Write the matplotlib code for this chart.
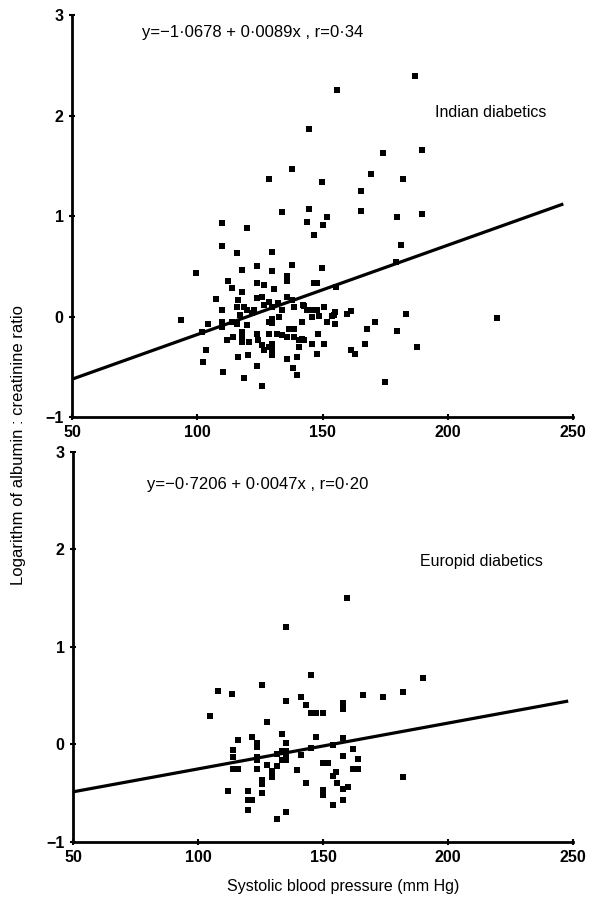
import numpy as np
import matplotlib
matplotlib.use('Agg')
import matplotlib.pyplot as plt

plt.rcParams['font.family'] = ['Liberation Sans', 'DejaVu Sans']

## Indian diabetics (systolic bp, log albumin:creatinine)
indian_sbp = [155.9, 144.5, 137.8, 128.5, 149.9, 133.8, 144.4, 151.7,
              186.9, 173.9, 189.8, 169.1, 181.9, 165.1, 165.1, 179.8, 189.8,
              93.6, 99.5, 109.8, 119.7, 109.8, 115.7, 129.8, 143.7, 150.3, 146.4,
              117.7, 123.7, 129.8, 137.8, 149.9, 135.7, 135.7, 112.2, 113.7, 123.7, 126.4, 130.5,
              146.5, 147.9, 155.2, 117.7, 107.6, 116.4, 123.7, 125.7, 135.8, 137.8, 128.4, 132.3,
              115.7, 118.5, 126.4, 129.8, 138.4, 142.3, 150.4,
              109.8, 119.7, 122.7, 133.8, 145.7, 147.7, 155.0, 117.2, 121.8, 132.5, 129.8, 145.7, 148.5, 154.4,
              104.2, 109.8, 109.8, 113.7, 115.7, 119.7, 128.4, 129.8, 141.8, 151.9, 155.0,
              101.8, 114.4, 117.7, 117.7, 117.7, 111.8, 120.6, 123.7, 124.3, 125.7, 128.4, 129.8, 128.4,
              131.7, 133.8, 135.8, 136.5, 138.4, 138.4, 140.4, 141.8, 142.4, 140.4, 129.7, 126.4, 129.8,
              129.8, 148.1, 145.7, 150.4, 147.7,
              103.5, 116.4, 120.4, 135.9, 139.8, 102.2, 123.7, 138.3, 110.2, 118.5, 139.8, 125.7,
              181.1, 179.1, 142.4, 143.7, 153.7, 159.8, 161.1, 183.1, 171.0, 167.8, 219.6, 179.8,
              167.0, 161.1, 163.0, 187.7, 175.0]
indian_lacr = [2.26, 1.87, 1.47, 1.37, 1.34, 1.04, 1.07, 0.99,
               2.40, 1.63, 1.66, 1.42, 1.37, 1.25, 1.05, 0.99, 1.02,
               -0.03, 0.43, 0.93, 0.88, 0.70, 0.63, 0.64, 0.94, 0.91, 0.81,
               0.46, 0.50, 0.45, 0.51, 0.48, 0.40, 0.35, 0.355, 0.285, 0.335, 0.315, 0.28,
               0.33, 0.33, 0.30, 0.25, 0.18, 0.17, 0.19, 0.20, 0.20, 0.17, 0.15, 0.14,
               0.10, 0.10, 0.12, 0.10, 0.10, 0.12, 0.10,
               0.07, 0.07, 0.07, 0.07, 0.07, 0.07, 0.05, 0.02, 0.04, 0.00, -0.02, 0.00, 0.01, 0.02,
               -0.07, -0.05, -0.10, -0.05, -0.07, -0.08, -0.05, -0.06, -0.05, -0.05, -0.07,
               -0.15, -0.20, -0.15, -0.20, -0.25, -0.23, -0.25, -0.17, -0.23, -0.28, -0.17, -0.27, -0.30,
               -0.17, -0.18, -0.20, -0.12, -0.12, -0.20, -0.23, -0.22, -0.23, -0.30, -0.36, -0.33, -0.32,
               -0.38, -0.17, -0.27, -0.27, -0.37,
               -0.33, -0.40, -0.38, -0.42, -0.40, -0.45, -0.49, -0.51, -0.55, -0.61, -0.58, -0.69,
               0.71, 0.54, 0.11, 0.07, 0.01, 0.03, 0.06, 0.03, -0.05, -0.12, -0.01, -0.14,
               -0.27, -0.335, -0.37, -0.30, -0.65]

## Europid diabetics
europid_sbp = [135.3, 159.7, 145.2, 107.8, 113.6, 125.6, 141.2, 143.2, 135.3, 104.6,
               145.2, 147.2, 149.9, 127.6, 133.4, 147.3, 121.7, 115.9, 123.6, 123.6,
               135.3, 113.9, 113.9, 145.2, 133.4, 135.3, 131.4, 141.2, 123.6, 123.6,
               135.3, 133.4, 135.3, 154.0, 149.9, 151.9, 113.9, 115.9, 123.6, 127.6,
               131.4, 129.6, 129.6, 139.4, 154.0, 155.3, 125.6, 125.6, 155.6, 143.2,
               112.0, 119.8, 150.0, 150.0, 125.6, 119.8, 121.7, 154.0, 119.8, 135.3, 131.7,
               189.8, 166.1, 173.9, 181.9, 157.8, 157.8, 157.8, 162.0, 157.8, 164.0,
               162.0, 164.0, 182.0, 157.8, 160.0, 157.8]
europid_lacr = [1.20, 1.50, 0.71, 0.55, 0.52, 0.61, 0.49, 0.40, 0.45, 0.29,
                0.32, 0.32, 0.32, 0.23, 0.11, 0.08, 0.08, 0.045, 0.02, -0.03,
                0.02, -0.06, -0.13, -0.04, -0.07, -0.07, -0.10, -0.11, -0.13, -0.16,
                -0.13, -0.16, -0.16, -0.01, -0.19, -0.19, -0.25, -0.25, -0.25, -0.21,
                -0.22, -0.27, -0.33, -0.26, -0.32, -0.28, -0.36, -0.41, -0.39, -0.39,
                -0.48, -0.48, -0.47, -0.52, -0.50, -0.57, -0.57, -0.62, -0.67, -0.69, -0.76,
                0.68, 0.51, 0.49, 0.54, 0.43, 0.36, 0.065, -0.05, -0.12, -0.15,
                -0.25, -0.25, -0.33, -0.46, -0.44, -0.57]

## regression (intercept, slope, x end of drawn line)
indian_fit = (-1.0678, 0.0089, 246)
europid_fit = (-0.7206, 0.0047, 248)

x_ticks = [50, 100, 150, 200, 250]
y_ticks = [-1, 0, 1, 2, 3]
eq_labels = ['y=\u22121\u00b70678 + 0\u00b70089x , r=0\u00b734',
             'y=\u22120\u00b77206 + 0\u00b70047x , r=0\u00b720']
group_labels = ['Indian diabetics', 'Europid diabetics']


def panel(ax, xs, ys, fit, eq, eq_pos, grp, grp_pos):
    ax.plot(xs, ys, 's', color='black', ms=4.7, mew=0)
    a, b, xe = fit
    lx = np.array([50, xe])
    ax.plot(lx, a + b * lx, color='black', lw=2.3, solid_capstyle='butt')
    ax.set_xlim(50, 251)
    ax.set_ylim(-1, 3)
    ax.set_xticks(x_ticks)
    ax.set_yticks(y_ticks)
    ax.set_yticklabels(['\u22121', '0', '1', '2', '3'])
    for s in ['top', 'right']:
        ax.spines[s].set_visible(False)
    for s in ['left', 'bottom']:
        ax.spines[s].set_linewidth(2.0)
    ax.spines['bottom'].set_bounds(50, 250)
    ax.tick_params(axis='both', direction='inout', length=5, width=1.5,
                   labelsize=11.5)
    for t in ax.get_xticklabels() + ax.get_yticklabels():
        t.set_fontweight('bold')
    ax.text(eq_pos[0], eq_pos[1], eq, fontsize=12, va='center', ha='left')
    ax.text(grp_pos[0], grp_pos[1], grp, fontsize=11.5, va='center', ha='left')


fig = plt.figure(figsize=(5.97, 8.97), dpi=100)
ax1 = fig.add_axes([0.1206, 0.535, 0.844, 0.448])
ax2 = fig.add_axes([0.1223, 0.0613, 0.842, 0.435])

panel(ax1, indian_sbp, indian_lacr, indian_fit, eq_labels[0], (77.8, 2.83),
      group_labels[0], (195.0, 2.03))
panel(ax2, europid_sbp, europid_lacr, europid_fit, eq_labels[1], (79.4, 2.67),
      group_labels[1], (188.9, 1.88))

fig.text(0.031, 1 - 445 / 897, 'Logarithm of albumin : creatinine ratio', rotation=90,
         fontsize=12, ha='center', va='center')
fig.text(343 / 597, 1 - 886 / 897, 'Systolic blood pressure (mm Hg)',
         fontsize=11.5, ha='center', va='center')

fig.savefig('out.png', dpi=100)
